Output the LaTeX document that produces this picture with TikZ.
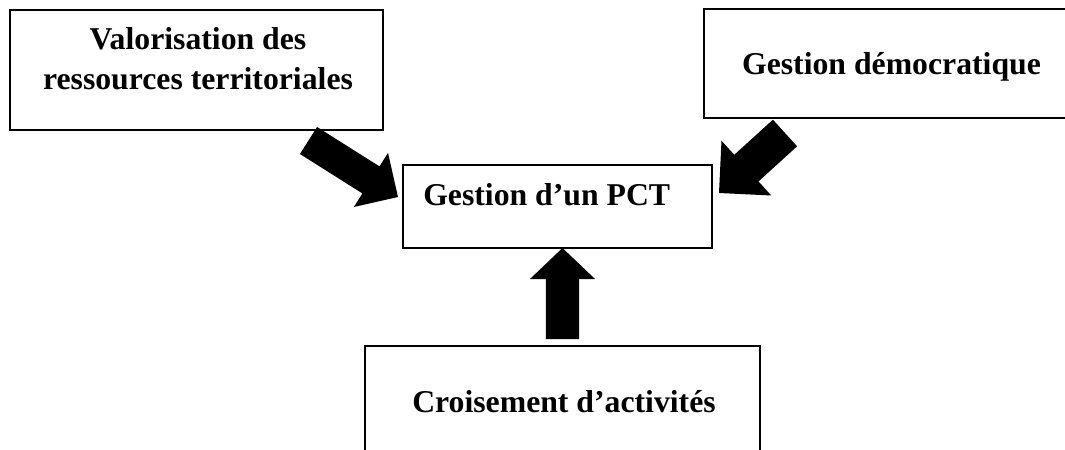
\documentclass[tikz,border=0pt]{standalone}
\usepackage{fontspec}
\setmainfont{Liberation Serif}
\usetikzlibrary{calc}
\tikzset{
  box/.style={draw=black, line width=1.2pt, rectangle, inner sep=0pt, outer sep=0pt},
  lbl/.style={font=\bfseries\fontsize{23.8}{30}\selectfont, inner sep=0pt, align=center},
  blockarrow/.style={fill=black, draw=none}
}
% #1 tail, #2 tip, #3 half shaft width, #4 half head width, #5 head length
\newcommand\blockarr[5]{%
  \coordinate (hb) at ($(#2)!#5!(#1)$);
  \fill[blockarrow] ($(#1)!#3!90:(#2)$) -- ($(hb)!#3!90:(#2)$) -- ($(hb)!#4!90:(#2)$) -- (#2)
    -- ($(hb)!#4!-90:(#2)$) -- ($(hb)!#3!-90:(#2)$) -- ($(#1)!#3!-90:(#2)$) -- cycle;
}
\begin{document}
\begin{tikzpicture}[x=0.75pt, y=-0.75pt]
  \useasboundingbox (0,0) rectangle (1065,450);
  \clip (0,0) rectangle (1065,450);
  % boxes
  \node[box, minimum width=279.75pt, minimum height=90pt] (val) at (196.5,70) {};
  \node[box, minimum width=274.5pt, minimum height=81.75pt] (dem) at (887,63.5) {};
  \node[box, minimum width=231.75pt, minimum height=62.25pt] (pct) at (557.5,206.5) {};
  \node[box, minimum width=296.25pt, minimum height=93pt] (cro) at (562.5,408) {};
  % texts
  \node[lbl] (valt) at (198,59) {Valorisation des\\ressources territoriales};
  \node[lbl, anchor=base] (demt) at (891.5,74) {Gestion démocratique};
  \node[lbl, anchor=base west] (pctt) at (423,205) {Gestion d’un PCT};
  \node[lbl, anchor=base] (crot) at (564,412) {Croisement d’activités};
  % arrow ends
  \coordinate (la) at (308.5,140.5);
  \coordinate (lt) at (398,197);
  \coordinate (ra) at (785,133);
  \coordinate (rt) at (719,193);
  \coordinate (ba) at (562.5,339);
  \coordinate (bt) at (562.5,248);
  \blockarr{la}{lt}{12pt}{24pt}{24pt}
  \blockarr{ra}{rt}{13.5pt}{27.75pt}{27.75pt}
  \blockarr{ba}{bt}{12.4pt}{24.4pt}{23.25pt}
\end{tikzpicture}
\end{document}
